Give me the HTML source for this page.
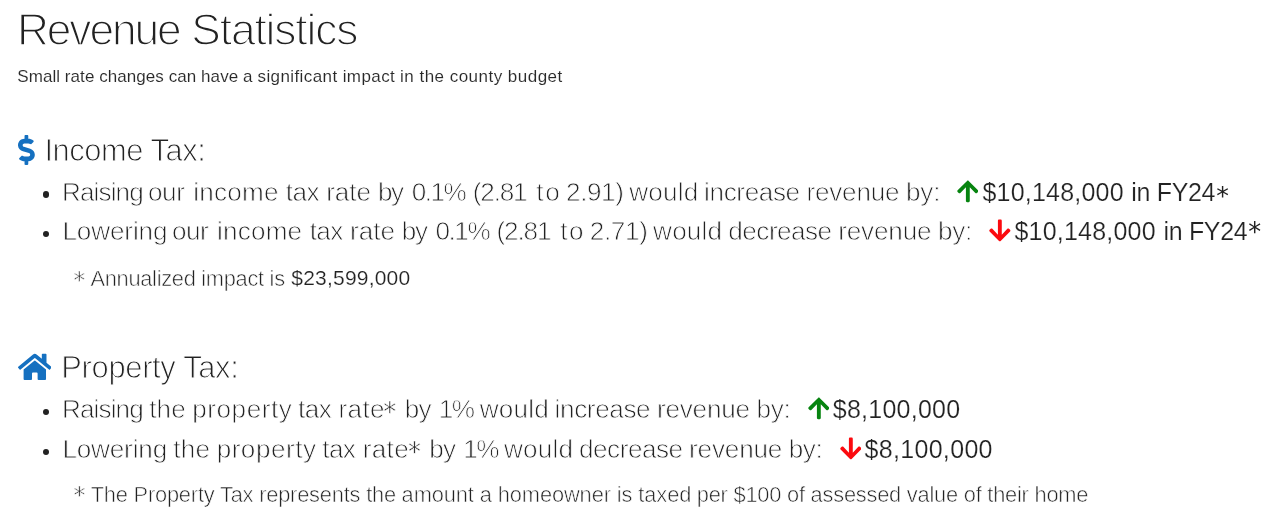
<!DOCTYPE html>
<html lang="en">
<head>
<meta charset="utf-8">
<title>Revenue Statistics</title>
<style>
  html, body { margin: 0; padding: 0; background: #fff; }
  body { will-change: transform; } /* neutral grayscale text antialiasing */
  body { width: 1282px; height: 526px; position: relative; overflow: hidden;
         font-family: "Liberation Sans", sans-serif; color: #222; }
  h1, h2, p, ul, li { margin: 0; padding: 0; font-weight: normal; font-size: inherit; list-style: none; }
  .t { position: absolute; white-space: nowrap; line-height: 1; font-weight: normal; }
  .lt { color: #222; }
  .rg { color: #222; }
  .rg2 { color: #282828; }
  .as { font-family: "DejaVu Sans", "Liberation Sans", sans-serif; }
  svg { position: absolute; display: block; }
  .dot { position: absolute; width: 6.1px; height: 6.1px; border-radius: 50%; background: #222; }
</style>
</head>
<body>

<h1><span class="t lt" id="t1" style="left:16.92px; top:5.00px; font-size:44.29px; line-height:49px; letter-spacing:-2.092px; -webkit-text-stroke:1.5px #fff;">Revenue</span> <span class="t lt" id="t2" style="left:191.35px; top:5.00px; font-size:44.29px; line-height:49px; letter-spacing:-1.128px; -webkit-text-stroke:1.5px #fff;">Statistics</span></h1>
<p><span class="t rg2" id="s1" style="left:17.25px; top:67.00px; font-size:17.00px; line-height:19px; letter-spacing:0.064px; -webkit-text-stroke:0.1px #fff;">Small rate changes can have a</span> <span class="t rg2" id="s2" style="left:257.50px; top:67.00px; font-size:17.00px; line-height:19px; letter-spacing:0.406px; -webkit-text-stroke:0.1px #fff;">significant impact</span> <span class="t rg2" id="s3" style="left:400.10px; top:67.00px; font-size:17.00px; line-height:19px; letter-spacing:0.474px; -webkit-text-stroke:0.1px #fff;">in the county budget</span></p>

<section>
<svg id="ic1" style="left:17.7px; top:135.2px;" width="16.82" height="29.9" viewBox="0 0 288 512"><path fill="#1570c0" d="M209.2 233.4l-108-31.6C88.7 198.2 80 186.5 80 173.5c0-16.3 13.2-29.5 29.5-29.5h66.3c12.2 0 24.2 3.7 34.2 10.5 6.1 4.1 14.3 3.1 19.5-2l34.8-34c7.1-6.9 6.1-18.4-1.8-24.5C238 74.8 207.4 64.1 176 64V16c0-8.8-7.2-16-16-16h-32c-8.8 0-16 7.2-16 16v48h-2.5C45.8 64-5.4 118.7.5 183.6c4.2 46.1 39.4 83.6 83.8 96.6l102.5 30c12.5 3.7 21.2 15.3 21.2 28.3 0 16.3-13.2 29.5-29.5 29.5h-66.3C100 368 88 364.3 78 357.5c-6.1-4.1-14.3-3.1-19.5 2l-34.8 34c-7.1 6.9-6.1 18.4 1.8 24.5 24.5 19.2 55.1 29.9 86.5 30v48c0 8.8 7.2 16 16 16h32c8.8 0 16-7.2 16-16v-48.2c46.6-.9 90.3-28.6 105.7-72.7 21.5-61.6-14.6-124.8-72.5-141.7z"/></svg>
<h2><span class="t lt" id="h2a" style="left:44.40px; top:133.00px; font-size:30.90px; line-height:35px; letter-spacing:-0.455px; -webkit-text-stroke:1.0px #fff;">Income Tax:</span></h2>
<ul>
  <li><i class="dot" style="left:43.20px; top:191.45px;"></i><span class="t lt" id="r1w0" style="left:62.05px; top:177.00px; font-size:26.12px; line-height:30px; letter-spacing:-0.908px; -webkit-text-stroke:0.8px #fff;">Raising</span> <span class="t lt" id="r1w1" style="left:148.00px; top:177.00px; font-size:26.12px; line-height:30px; letter-spacing:-0.425px; -webkit-text-stroke:0.8px #fff;">our</span> <span class="t lt" id="r1w2" style="left:193.20px; top:177.00px; font-size:26.12px; line-height:30px; letter-spacing:0.210px; -webkit-text-stroke:0.8px #fff;">income</span> <span class="t lt" id="r1w3" style="left:285.80px; top:177.00px; font-size:26.12px; line-height:30px; letter-spacing:-0.575px; -webkit-text-stroke:0.8px #fff;">tax</span> <span class="t lt" id="r1w4" style="left:326.15px; top:177.00px; font-size:26.12px; line-height:30px; letter-spacing:-0.033px; -webkit-text-stroke:0.8px #fff;">rate</span> <span class="t lt" id="r1w5" style="left:378.05px; top:177.00px; font-size:26.12px; line-height:30px; letter-spacing:-1.450px; -webkit-text-stroke:0.8px #fff;">by</span> <span class="t lt" id="r1w6" style="left:411.85px; top:177.00px; font-size:26.12px; line-height:30px; letter-spacing:-1.550px; -webkit-text-stroke:0.8px #fff;">0.1%</span> <span class="t lt" id="r1w7" style="left:472.85px; top:177.00px; font-size:26.12px; line-height:30px; letter-spacing:-1.213px; -webkit-text-stroke:0.8px #fff;">(2.81</span> <span class="t lt" id="r1w8" style="left:536.30px; top:177.00px; font-size:26.12px; line-height:30px; letter-spacing:1.650px; -webkit-text-stroke:0.8px #fff;">to</span> <span class="t lt" id="r1w9" style="left:566.05px; top:177.00px; font-size:26.12px; line-height:30px; letter-spacing:-0.413px; -webkit-text-stroke:0.8px #fff;">2.91)</span> <span class="t lt" id="r1w10" style="left:629.15px; top:177.00px; font-size:26.12px; line-height:30px; letter-spacing:0.200px; -webkit-text-stroke:0.8px #fff;">would</span> <span class="t lt" id="r1w11" style="left:704.10px; top:177.00px; font-size:26.12px; line-height:30px; letter-spacing:-0.379px; -webkit-text-stroke:0.8px #fff;">increase</span> <span class="t lt" id="r1w12" style="left:806.55px; top:177.00px; font-size:26.12px; line-height:30px; letter-spacing:-0.233px; -webkit-text-stroke:0.8px #fff;">revenue</span> <span class="t lt" id="r1w13" style="left:906.00px; top:177.00px; font-size:26.12px; line-height:30px; letter-spacing:-0.175px; -webkit-text-stroke:0.8px #fff;">by:</span>
    <svg id="a1" style="left:956.80px; top:179.15px;" width="21.70" height="24.80" viewBox="0 0 448 512"><path fill="#078410" d="M34.9 289.5l-22.2-22.2c-9.4-9.4-9.4-24.6 0-33.9L207 39c9.4-9.4 24.6-9.4 33.9 0l194.3 194.3c9.4 9.4 9.4 24.6 0 33.9L413 289.4c-9.5 9.5-25 9.3-34.3-.4L264 168.6V456c0 13.3-10.7 24-24 24h-32c-13.3 0-24-10.7-24-24V168.6L69.2 289.1c-9.3 9.8-24.8 10-34.3.4z"/></svg>
    <span class="t rg" id="m1a" style="left:982.40px; top:178.00px; font-size:25.00px; line-height:28px; letter-spacing:0.215px; -webkit-text-stroke:0.2px #fff;">$10,148,000</span> <span class="t rg" id="m1b" style="left:1131.30px; top:178.00px; font-size:25.00px; line-height:28px; letter-spacing:-0.333px; -webkit-text-stroke:0.2px #fff;">in FY24</span><span class="t rg as" id="m1s" style="left:1216.25px; top:182.70px; font-size:25.36px;">*</span></li>
  <li><i class="dot" style="left:43.20px; top:230.55px;"></i><span class="t lt" id="r2w0" style="left:62.40px; top:216.00px; font-size:26.12px; line-height:30px; letter-spacing:-0.114px; -webkit-text-stroke:0.8px #fff;">Lowering</span> <span class="t lt" id="r2w1" style="left:171.90px; top:216.00px; font-size:26.12px; line-height:30px; letter-spacing:-0.425px; -webkit-text-stroke:0.8px #fff;">our</span> <span class="t lt" id="r2w2" style="left:217.10px; top:216.00px; font-size:26.12px; line-height:30px; letter-spacing:0.160px; -webkit-text-stroke:0.8px #fff;">income</span> <span class="t lt" id="r2w3" style="left:309.70px; top:216.00px; font-size:26.12px; line-height:30px; letter-spacing:-0.575px; -webkit-text-stroke:0.8px #fff;">tax</span> <span class="t lt" id="r2w4" style="left:350.05px; top:216.00px; font-size:26.12px; line-height:30px; letter-spacing:-0.033px; -webkit-text-stroke:0.8px #fff;">rate</span> <span class="t lt" id="r2w5" style="left:401.70px; top:216.00px; font-size:26.12px; line-height:30px; letter-spacing:-1.200px; -webkit-text-stroke:0.8px #fff;">by</span> <span class="t lt" id="r2w6" style="left:435.50px; top:216.00px; font-size:26.12px; line-height:30px; letter-spacing:-1.467px; -webkit-text-stroke:0.8px #fff;">0.1%</span> <span class="t lt" id="r2w7" style="left:496.50px; top:216.00px; font-size:26.12px; line-height:30px; letter-spacing:-1.150px; -webkit-text-stroke:0.8px #fff;">(2.81</span> <span class="t lt" id="r2w8" style="left:560.20px; top:216.00px; font-size:26.12px; line-height:30px; letter-spacing:1.650px; -webkit-text-stroke:0.8px #fff;">to</span> <span class="t lt" id="r2w9" style="left:589.70px; top:216.00px; font-size:26.12px; line-height:30px; letter-spacing:-0.312px; -webkit-text-stroke:0.8px #fff;">2.71)</span> <span class="t lt" id="r2w10" style="left:653.10px; top:216.00px; font-size:26.12px; line-height:30px; letter-spacing:0.200px; -webkit-text-stroke:0.8px #fff;">would</span> <span class="t lt" id="r2w11" style="left:728.35px; top:216.00px; font-size:26.12px; line-height:30px; letter-spacing:-0.521px; -webkit-text-stroke:0.8px #fff;">decrease</span> <span class="t lt" id="r2w12" style="left:838.15px; top:216.00px; font-size:26.12px; line-height:30px; letter-spacing:-0.142px; -webkit-text-stroke:0.8px #fff;">revenue</span> <span class="t lt" id="r2w13" style="left:938.00px; top:216.00px; font-size:26.12px; line-height:30px; letter-spacing:-0.250px; -webkit-text-stroke:0.8px #fff;">by:</span>
    <svg id="a2" style="left:988.85px; top:217.90px;" width="21.70" height="24.80" viewBox="0 0 448 512"><path fill="#fb0a0f" d="M413.1 222.5l22.2 22.2c9.4 9.4 9.4 24.6 0 33.9L241 473c-9.4 9.4-24.6 9.4-33.9 0L12.7 278.6c-9.4-9.4-9.4-24.6 0-33.9l22.2-22.2c9.5-9.5 25-9.3 34.3.4L184 343.4V56c0-13.3 10.7-24 24-24h32c13.3 0 24 10.7 24 24v287.4l114.8-120.5c9.3-9.8 24.8-10 34.3-.4z"/></svg>
    <span class="t rg" id="m2a" style="left:1014.45px; top:217.00px; font-size:25.00px; line-height:28px; letter-spacing:0.215px; -webkit-text-stroke:0.2px #fff;">$10,148,000</span> <span class="t rg" id="m2b" style="left:1163.60px; top:217.00px; font-size:25.00px; line-height:28px; letter-spacing:-0.350px; -webkit-text-stroke:0.2px #fff;">in FY24</span><span class="t rg as" id="m2s" style="left:1248.30px; top:220.15px; font-size:25.80px;">*</span></li>
</ul>
<p><span class="t lt as" id="f1s" style="left:73.50px; top:268.10px; font-size:23.29px; -webkit-text-stroke:0.5px #fff;">*</span> <span class="t lt" id="f1a" style="left:90.45px; top:266.00px; font-size:21.84px; line-height:25px; letter-spacing:-0.292px; -webkit-text-stroke:0.6px #fff;">Annualized impact is</span> <span class="t rg" id="f1m" style="left:291.35px; top:266.00px; font-size:21.00px; line-height:23px; letter-spacing:0.200px; -webkit-text-stroke:0.2px #fff;">$23,599,000</span></p>
</section>

<section>
<svg id="ic2" style="left:17.67px; top:351.7px;" width="33.64" height="29.9" viewBox="0 0 576 512"><path fill="#1570c0" d="M280.37 148.26L96 300.11V464a16 16 0 0 0 16 16l112.06-.29a16 16 0 0 0 15.92-16V368a16 16 0 0 1 16-16h64a16 16 0 0 1 16 16v95.64a16 16 0 0 0 16 16.05L464 480a16 16 0 0 0 16-16V300L295.67 148.26a12.19 12.19 0 0 0-15.3 0zM571.6 251.47L488 182.56V44.05a12 12 0 0 0-12-12h-56a12 12 0 0 0-12 12v72.61L318.47 43a48 48 0 0 0-61 0L4.34 251.47a12 12 0 0 0-1.6 16.9l25.5 31A12 12 0 0 0 45.15 301l235.22-193.74a12.19 12.19 0 0 1 15.3 0L530.9 301a12 12 0 0 0 16.9-1.6l25.5-31a12 12 0 0 0-1.7-16.93z"/></svg>
<h2><span class="t lt" id="h2b" style="left:61.35px; top:350.00px; font-size:30.90px; line-height:35px; letter-spacing:-0.329px; -webkit-text-stroke:1.0px #fff;">Property Tax:</span></h2>
<ul>
  <li><i class="dot" style="left:43.20px; top:408.55px;"></i><span class="t lt" id="r3w0" style="left:62.05px; top:394.00px; font-size:26.12px; line-height:30px; letter-spacing:-0.908px; -webkit-text-stroke:0.8px #fff;">Raising</span> <span class="t lt" id="r3w1" style="left:149.20px; top:394.00px; font-size:26.12px; line-height:30px; letter-spacing:0.175px; -webkit-text-stroke:0.8px #fff;">the</span> <span class="t lt" id="r3w2" style="left:192.20px; top:394.00px; font-size:26.12px; line-height:30px; letter-spacing:0.557px; -webkit-text-stroke:0.8px #fff;">property</span> <span class="t lt" id="r3w3" style="left:297.90px; top:394.00px; font-size:26.12px; line-height:30px; letter-spacing:-0.450px; -webkit-text-stroke:0.8px #fff;">tax</span> <span class="t lt" id="r3w4" style="left:338.50px; top:394.00px; font-size:26.12px; line-height:30px; letter-spacing:0.350px; -webkit-text-stroke:0.8px #fff;">rate</span><span class="t lt as" id="r3s" style="left:383.20px; top:398.70px; font-size:26.01px; -webkit-text-stroke:0.5px #fff;">*</span> <span class="t lt" id="r3w5" style="left:404.65px; top:394.00px; font-size:26.12px; line-height:30px; letter-spacing:-0.750px; -webkit-text-stroke:0.8px #fff;">by</span> <span class="t lt" id="r3w6" style="left:438.85px; top:394.00px; font-size:26.12px; line-height:30px; letter-spacing:-1.698px; -webkit-text-stroke:0.8px #fff;">1%</span> <span class="t lt" id="r3w7" style="left:479.65px; top:394.00px; font-size:26.12px; line-height:30px; letter-spacing:0.200px; -webkit-text-stroke:0.8px #fff;">would</span> <span class="t lt" id="r3w8" style="left:554.60px; top:394.00px; font-size:26.12px; line-height:30px; letter-spacing:-0.379px; -webkit-text-stroke:0.8px #fff;">increase</span> <span class="t lt" id="r3w9" style="left:657.05px; top:394.00px; font-size:26.12px; line-height:30px; letter-spacing:-0.233px; -webkit-text-stroke:0.8px #fff;">revenue</span> <span class="t lt" id="r3w10" style="left:756.50px; top:394.00px; font-size:26.12px; line-height:30px; letter-spacing:-0.250px; -webkit-text-stroke:0.8px #fff;">by:</span>
    <svg id="a3" style="left:807.50px; top:396.10px;" width="21.70" height="24.80" viewBox="0 0 448 512"><path fill="#078410" d="M34.9 289.5l-22.2-22.2c-9.4-9.4-9.4-24.6 0-33.9L207 39c9.4-9.4 24.6-9.4 33.9 0l194.3 194.3c9.4 9.4 9.4 24.6 0 33.9L413 289.4c-9.5 9.5-25 9.3-34.3-.4L264 168.6V456c0 13.3-10.7 24-24 24h-32c-13.3 0-24-10.7-24-24V168.6L69.2 289.1c-9.3 9.8-24.8 10-34.3.4z"/></svg>
    <span class="t rg" id="m3" style="left:832.80px; top:395.00px; font-size:25.00px; line-height:28px; letter-spacing:0.250px; -webkit-text-stroke:0.2px #fff;">$8,100,000</span></li>
  <li><i class="dot" style="left:43.20px; top:448.65px;"></i><span class="t lt" id="r4w0" style="left:62.40px; top:434.00px; font-size:26.12px; line-height:30px; letter-spacing:-0.171px; -webkit-text-stroke:0.8px #fff;">Lowering</span> <span class="t lt" id="r4w1" style="left:173.20px; top:434.00px; font-size:26.12px; line-height:30px; letter-spacing:0.250px; -webkit-text-stroke:0.8px #fff;">the</span> <span class="t lt" id="r4w2" style="left:216.65px; top:434.00px; font-size:26.12px; line-height:30px; letter-spacing:0.507px; -webkit-text-stroke:0.8px #fff;">property</span> <span class="t lt" id="r4w3" style="left:322.35px; top:434.00px; font-size:26.12px; line-height:30px; letter-spacing:-0.650px; -webkit-text-stroke:0.8px #fff;">tax</span> <span class="t lt" id="r4w4" style="left:362.65px; top:434.00px; font-size:26.12px; line-height:30px; letter-spacing:0.350px; -webkit-text-stroke:0.8px #fff;">rate</span><span class="t lt as" id="r4s" style="left:408.10px; top:438.70px; font-size:26.00px; -webkit-text-stroke:0.5px #fff;">*</span> <span class="t lt" id="r4w5" style="left:429.15px; top:434.00px; font-size:26.12px; line-height:30px; letter-spacing:-0.700px; -webkit-text-stroke:0.8px #fff;">by</span> <span class="t lt" id="r4w6" style="left:463.35px; top:434.00px; font-size:26.12px; line-height:30px; letter-spacing:-1.698px; -webkit-text-stroke:0.8px #fff;">1%</span> <span class="t lt" id="r4w7" style="left:504.05px; top:434.00px; font-size:26.12px; line-height:30px; letter-spacing:0.200px; -webkit-text-stroke:0.8px #fff;">would</span> <span class="t lt" id="r4w8" style="left:579.05px; top:434.00px; font-size:26.12px; line-height:30px; letter-spacing:-0.486px; -webkit-text-stroke:0.8px #fff;">decrease</span> <span class="t lt" id="r4w9" style="left:689.10px; top:434.00px; font-size:26.12px; line-height:30px; letter-spacing:-0.183px; -webkit-text-stroke:0.8px #fff;">revenue</span> <span class="t lt" id="r4w10" style="left:788.70px; top:434.00px; font-size:26.12px; line-height:30px; letter-spacing:-0.400px; -webkit-text-stroke:0.8px #fff;">by:</span>
    <svg id="a4" style="left:839.60px; top:436.05px;" width="21.70" height="24.80" viewBox="0 0 448 512"><path fill="#fb0a0f" d="M413.1 222.5l22.2 22.2c9.4 9.4 9.4 24.6 0 33.9L241 473c-9.4 9.4-24.6 9.4-33.9 0L12.7 278.6c-9.4-9.4-9.4-24.6 0-33.9l22.2-22.2c9.5-9.5 25-9.3 34.3.4L184 343.4V56c0-13.3 10.7-24 24-24h32c13.3 0 24 10.7 24 24v287.4l114.8-120.5c9.3-9.8 24.8-10 34.3-.4z"/></svg>
    <span class="t rg" id="m4" style="left:864.45px; top:435.00px; font-size:25.00px; line-height:28px; letter-spacing:0.328px; -webkit-text-stroke:0.2px #fff;">$8,100,000</span></li>
</ul>
<p><span class="t lt as" id="f2s" style="left:73.50px; top:483.65px; font-size:23.77px; -webkit-text-stroke:0.5px #fff;">*</span> <span class="t lt" id="f2a" style="left:90.70px; top:482.00px; font-size:21.84px; line-height:25px; letter-spacing:-0.200px; -webkit-text-stroke:0.6px #fff;">The Property Tax represents the</span> <span class="t lt" id="f2b" style="left:401.60px; top:482.00px; font-size:21.84px; line-height:25px; letter-spacing:-0.104px; -webkit-text-stroke:0.6px #fff;">amount a homeowner is taxed</span> <span class="t lt" id="f2c" style="left:696.80px; top:482.00px; font-size:21.84px; line-height:25px; letter-spacing:-0.226px; -webkit-text-stroke:0.6px #fff;">per $100 of assessed value of their home</span></p>
</section>

</body>
</html>
